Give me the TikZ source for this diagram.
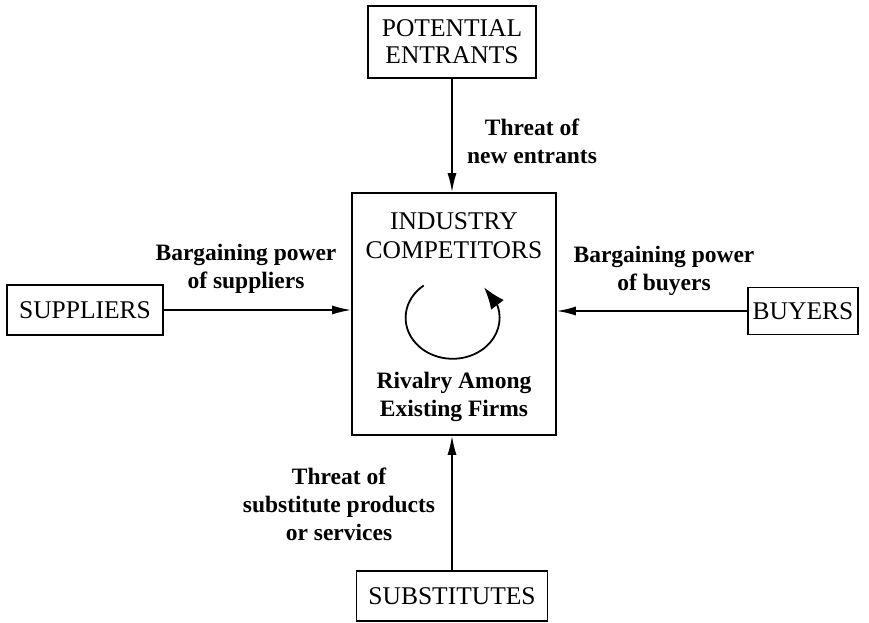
\documentclass[tikz,border=0pt]{standalone}
\usepackage{fontspec}
\setmainfont{Liberation Serif}
\usetikzlibrary{arrows.meta, bending}
\begin{document}
\begin{tikzpicture}[x=1pt, y=-1pt,
        force/.style={draw, line width=1.6pt, align=center, inner sep=0pt, font=\fontsize{25.5}{27}\selectfont},
        label/.style={align=center, font=\bfseries\fontsize{23.5}{28}\selectfont},
        link/.style={->, line width=1.7pt},
        >={Latex[length=19pt,width=9pt]}
    ]
        \useasboundingbox (0,0) rectangle (869,623);

        % Centre box
        \node[force, minimum width=204, minimum height=242] (industry) at (454,314) {};
        \node[align=center, font=\fontsize{25.5}{29}\selectfont] (title) at (454,236) {INDUSTRY\\COMPETITORS};
        \node[label] (rivalry) at (454,397) {Rivalry Among\\Existing Firms};
        \coordinate (rc) at (452,317);
        \draw[line width=1.8pt, -{Latex[length=22pt,width=16pt,flex]}] (rc) ++(232:46 and 40) arc[start angle=232, end angle=-48, x radius=47, y radius=41];

        % Outer forces
        \node[force, minimum width=168, minimum height=72] (entrants) at (452,42) {POTENTIAL\\ENTRANTS};
        \node[force, minimum width=156, minimum height=50] (suppliers) at (85,310) {SUPPLIERS};
        \node[force, minimum width=110, minimum height=47] (buyers) at (803,311) {BUYERS};
        \node[force, minimum width=191, minimum height=50] (substitutes) at (452,596) {SUBSTITUTES};

        % Labels
        \node[label] (lentrants) at (532,141) {Threat of\\new entrants};
        \node[label] (lsuppliers) at (246,269) {Bargaining power\\of suppliers};
        \node[label] (lbuyers) at (664,271) {Bargaining power\\of buyers};
        \node[label] (lsubstitutes) at (339,504) {Threat of\\substitute products\\or services};

        % Connections
        \draw[link] (entrants) -- (entrants |- industry.north);
        \draw[link] (suppliers) -- (suppliers -| industry.west);
        \draw[link] (buyers) -- (buyers -| industry.east);
        \draw[link] (substitutes) -- (substitutes |- industry.south);
    \end{tikzpicture}
\end{document}
